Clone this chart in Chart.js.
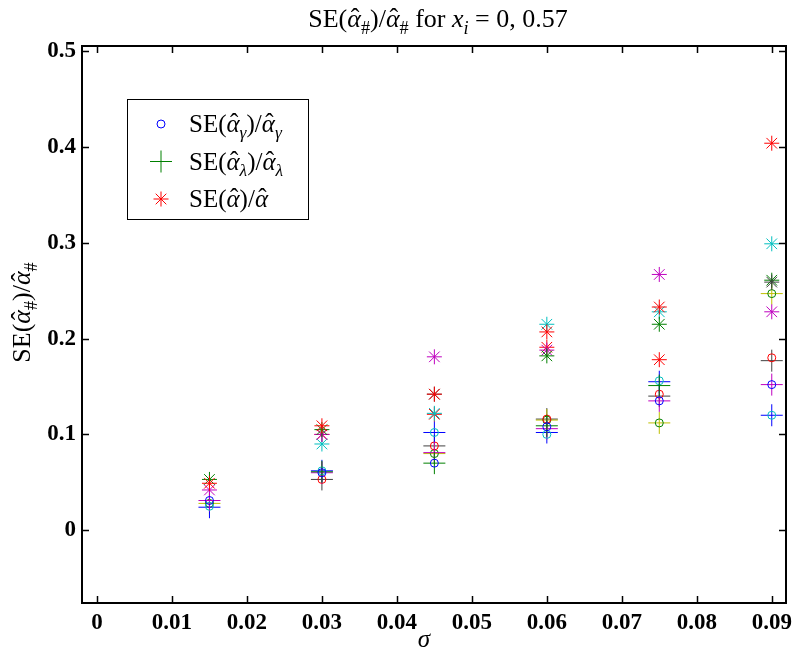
<!DOCTYPE html>
<html>
<head>
<meta charset="utf-8">
<script src="https://cdn.jsdelivr.net/npm/chart.js@4"></script>
<style>body{margin:0;background:#fff}</style>
</head>
<body>
<canvas id="myChart" width="798" height="656"></canvas>
<script>
// sigma values where the estimates were computed
const sigma = [0.015, 0.03, 0.045, 0.06, 0.075, 0.09];

// SE(alpha_gamma)/alpha_gamma  (circles), one array per colour
const circleBlue  = [0.031, 0.060, 0.070, 0.108, 0.135, 0.152];
const circleCyan  = [0.025, 0.062, 0.102, 0.100, 0.156, 0.120];
const circleRed   = [null,  0.053, 0.088, 0.116, 0.142, 0.180];
const circleGreen = [0.028, null,  0.080, 0.115, 0.112, 0.247];

// SE(alpha_lambda)/alpha_lambda  (plus signs)
const plusBlue    = [0.024, 0.062, 0.102, 0.102, 0.155, 0.120];
const plusMagenta = [0.031, 0.060, 0.081, 0.106, 0.135, 0.152];
const plusBlack   = [null,  0.053, 0.088, 0.116, 0.140, 0.177];
const plusYellow  = [0.028, null,  0.080, 0.115, 0.112, 0.247];
const plusGreen   = [null,  0.061, 0.070, 0.109, 0.151, null];

// SE(alpha)/alpha  (stars)
const starRed     = [0.049, 0.109, 0.142, 0.207, 0.233, 0.404];
const starRed2    = [null,  0.100, 0.121, 0.191, 0.178, null];
const starGreen   = [0.053, 0.105, null,  0.182, 0.215, 0.261];
const starMagenta = [0.042, 0.100, 0.181, 0.188, 0.267, 0.228];
const starCyan    = [null,  0.090, 0.122, 0.215, 0.228, 0.299];
const starBlack   = [null,  null,  0.142, null,  null,  0.259];

const xTicks = [0, 0.01, 0.02, 0.03, 0.04, 0.05, 0.06, 0.07, 0.08, 0.09];
const xTickLabels = ["0", "0.01", "0.02", "0.03", "0.04", "0.05", "0.06", "0.07", "0.08", "0.09"];
const yTicks = [0, 0.1, 0.2, 0.3, 0.4, 0.5];
const yTickLabels = ["0", "0.1", "0.2", "0.3", "0.4", "0.5"];

const col = {
  b: "#0000ff", g: "#008000", r: "#ff0000", c: "#00bfbf",
  m: "#bf00bf", y: "#bfbf00", k: "#404040"
};

function markerSet(values, color, style) {
  const radius = style === "circle" ? 4 : style === "cross" ? 11 : 7.5;
  let pts = [];
  values.forEach((v, i) => { if (v != null) pts.push({ x: sigma[i], y: v }); });
  return {
    data: pts,
    pointStyle: style,
    pointRadius: radius,
    pointHoverRadius: radius,
    borderColor: color,
    backgroundColor: "rgba(0,0,0,0)",
    borderWidth: 1,
    showLine: false,
  };
}

const datasets = [
  markerSet(circleBlue, col.b, "circle"),
  markerSet(plusGreen, col.g, "cross"),
  markerSet(starRed, col.r, "star"),
  markerSet(circleCyan, col.c, "circle"),
  markerSet(plusMagenta, col.m, "cross"),
  markerSet(starBlack, col.k, "star"),
  markerSet(plusBlue, col.b, "cross"),
  markerSet(starGreen, col.g, "star"),
  markerSet(circleRed, col.r, "circle"),
  markerSet(starMagenta, col.m, "star"),
  markerSet(circleGreen, col.g, "circle"),
  markerSet(plusYellow, col.y, "cross"),
  markerSet(plusBlack, col.k, "cross"),
  markerSet(starCyan, col.c, "star"),
  markerSet(starRed2, col.r, "star"),
];

const SERIF = "'Liberation Serif', 'DejaVu Serif', serif";

// draw text made of parts: {t, it, sub, hat}
function richWidth(ctx, parts, size) {
  let w = 0;
  parts.forEach(p => {
    ctx.font = (p.it ? "italic " : "") + (p.sub ? size * 0.7 : size) + "px " + SERIF;
    w += ctx.measureText(p.t).width;
  });
  return w;
}
function drawRich(ctx, parts, x, y, size, align) {
  let cx = x;
  if (align === "center") cx = x - richWidth(ctx, parts, size) / 2;
  ctx.textBaseline = "alphabetic";
  ctx.textAlign = "left";
  ctx.fillStyle = "#000";
  parts.forEach(p => {
    const s = p.sub ? size * 0.7 : size;
    ctx.font = (p.it ? "italic " : "") + s + "px " + SERIF;
    const w = ctx.measureText(p.t).width;
    const dy = p.sub ? size * 0.25 : 0;
    ctx.fillText(p.t, cx, y + dy);
    if (p.hat) {
      ctx.font = s + "px " + SERIF;
      const hw = ctx.measureText("\u02C6").width;
      ctx.fillText("\u02C6", cx + w / 2 - hw / 2 + 1, y + dy - 1);
    }
    cx += w;
  });
}

const seAlphaHash = [
  { t: "SE(" }, { t: "α", it: true, hat: true }, { t: "#", sub: true },
  { t: ")/" }, { t: "α", it: true, hat: true }, { t: "#", sub: true },
];
const titleParts = seAlphaHash.concat([
  { t: " for " }, { t: "x", it: true }, { t: "i", it: true, sub: true }, { t: " = 0, 0.57" },
]);
const legendRows = [
  { color: col.b, style: "circle", parts: [{ t: "SE(" }, { t: "α", it: true, hat: true }, { t: "γ", it: true, sub: true }, { t: ")/" }, { t: "α", it: true, hat: true }, { t: "γ", it: true, sub: true }] },
  { color: col.g, style: "cross", parts: [{ t: "SE(" }, { t: "α", it: true, hat: true }, { t: "λ", it: true, sub: true }, { t: ")/" }, { t: "α", it: true, hat: true }, { t: "λ", it: true, sub: true }] },
  { color: col.r, style: "star", parts: [{ t: "SE(" }, { t: "α", it: true, hat: true }, { t: ")/" }, { t: "α", it: true, hat: true }] },
];

const axesBox = {
  id: "axesBox",
  afterDatasetsDraw(chart) {
    const { ctx, chartArea: a, scales: { x, y } } = chart;
    ctx.save();
    ctx.strokeStyle = "#000";
    ctx.lineWidth = 1.5;
    ctx.beginPath();
    xTicks.forEach(v => {
      const px = Math.round(x.getPixelForValue(v)) + 0.5;
      ctx.moveTo(px, a.bottom); ctx.lineTo(px, a.bottom - 7);
      ctx.moveTo(px, a.top); ctx.lineTo(px, a.top + 7);
    });
    yTicks.forEach(v => {
      const py = Math.round(y.getPixelForValue(v)) + 0.5;
      ctx.moveTo(a.left, py); ctx.lineTo(a.left + 7, py);
      ctx.moveTo(a.right, py); ctx.lineTo(a.right - 7, py);
    });
    ctx.stroke();
    ctx.lineWidth = 2;
    ctx.strokeRect(a.left, a.top, a.right - a.left, a.bottom - a.top);

    // x tick labels
    ctx.fillStyle = "#000";
    ctx.font = "bold 23px " + SERIF;
    ctx.textAlign = "center";
    ctx.textBaseline = "middle";
    xTicks.forEach((v, i) => ctx.fillText(xTickLabels[i], x.getPixelForValue(v), 623));

    // title and axis labels
    drawRich(ctx, titleParts, (a.left + a.right) / 2 + 4, 27, 26, "center");
    ctx.font = "italic 25px " + SERIF;
    ctx.textAlign = "center";
    ctx.textBaseline = "alphabetic";
    ctx.fillText("σ", (a.left + a.right) / 2 - 10, 647);
    ctx.save();
    ctx.translate(30, (a.top + a.bottom) / 2 - 12);
    ctx.rotate(-Math.PI / 2);
    drawRich(ctx, seAlphaHash, 0, 0, 26, "center");
    ctx.restore();

    // legend
    ctx.fillStyle = "#fff";
    ctx.fillRect(127, 99, 181, 120);
    ctx.lineWidth = 1;
    ctx.strokeStyle = "#000";
    ctx.strokeRect(127.5, 99.5, 181, 120);
    legendRows.forEach((row, i) => {
      const cy = 124 + i * 37.5;
      const r = row.style === "circle" ? 4 : row.style === "cross" ? 11 : 7.5;
      ctx.strokeStyle = row.color;
      ctx.fillStyle = "rgba(0,0,0,0)";
      ctx.lineWidth = 1;
      Chart.helpers.drawPoint(ctx, { pointStyle: row.style, radius: r, borderWidth: 1 }, 161, cy);
      drawRich(ctx, row.parts, 189, cy + 8, 25, "left");
    });
    ctx.restore();
  }
};

new Chart("myChart", {
  type: "scatter",
  data: { datasets: datasets },
  options: {
    responsive: false,
    animation: false,
    devicePixelRatio: 1,
    layout: { padding: { left: 0, top: 46, right: 9, bottom: 53 } },
    plugins: { legend: { display: false }, tooltip: { enabled: false } },
    scales: {
      x: {
        type: "linear", min: -0.002, max: 0.0919,
        grid: { display: false, drawTicks: false },
        border: { display: false },
        afterBuildTicks: s => { s.ticks = xTicks.map(v => ({ value: v })); },
        afterFit: s => { s.height = 0; },
        ticks: { display: false },
      },
      y: {
        type: "linear", min: -0.076, max: 0.5055,
        grid: { display: false, drawTicks: false },
        border: { display: false },
        afterBuildTicks: s => { s.ticks = yTicks.map(v => ({ value: v })); },
        afterFit: s => { s.width = 82; },
        ticks: {
          padding: 6, color: "#000", autoSkip: false,
          font: { family: SERIF, size: 23, weight: "bold" },
          callback: (v, i) => yTickLabels[i],
        },
      },
    },
  },
  plugins: [axesBox],
});
</script>
</body>
</html>
